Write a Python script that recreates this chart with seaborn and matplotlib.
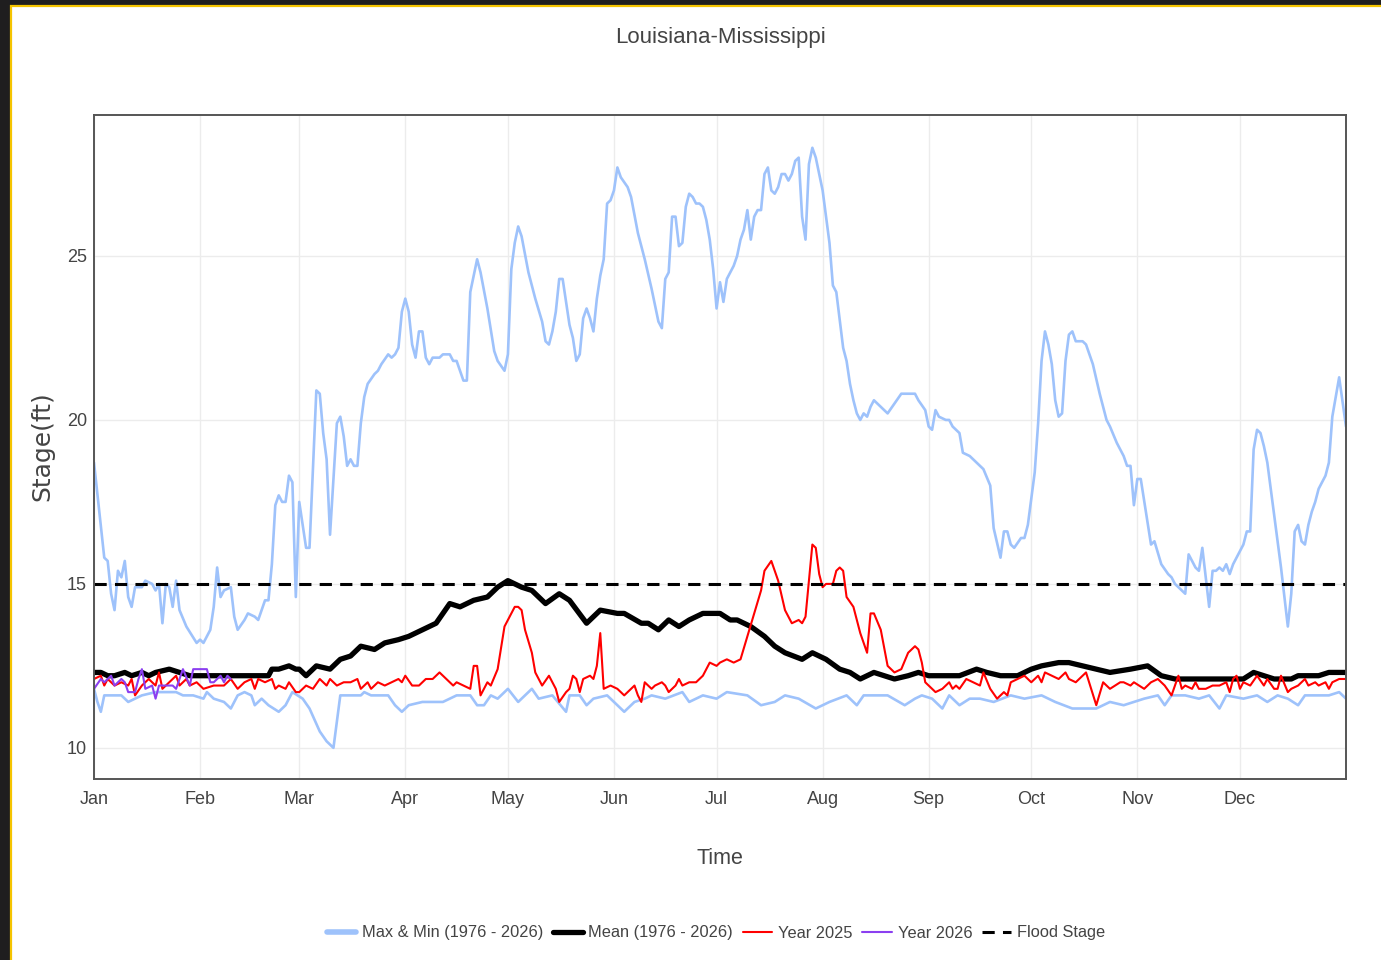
import matplotlib
matplotlib.use("Agg")
import matplotlib.pyplot as plt
import matplotlib.patches as mpatches
import pandas as pd
import seaborn as sns

# month axis (leap-year day of year)
month_labels = ["Jan", "Feb", "Mar", "Apr", "May", "Jun", "Jul", "Aug", "Sep", "Oct", "Nov", "Dec"]
month_starts = [0, 31, 60, 91, 121, 152, 182, 213, 244, 274, 305, 335]

# Max (1976 - 2026)
max_day = [0, 3, 4, 5, 6, 7, 8, 9, 10, 11, 12, 14, 15, 17, 18, 19, 20, 21, 22, 23, 24, 25, 27, 30, 31, 32,
           34, 35, 36, 37, 38, 40, 41, 42, 44, 45, 47, 48, 49, 50, 51, 52, 53, 54, 55, 56, 57, 58, 59, 60,
           62, 63, 65, 66, 67, 68, 69, 71, 72, 73, 74, 75, 76, 77, 78, 79, 80, 82, 83, 84, 86, 87, 88, 89,
           90, 91, 92, 93, 94, 95, 96, 97, 98, 99, 101, 102, 103, 104, 105, 106, 107, 108, 109, 110, 112,
           113, 115, 117, 118, 120, 121, 122, 123, 124, 125, 127, 129, 131, 132, 133, 134, 135, 136, 137,
           138, 139, 140, 141, 142, 143, 144, 145, 146, 147, 148, 149, 150, 151, 152, 153, 154, 156, 157,
           159, 161, 163, 165, 166, 167, 168, 169, 170, 171, 172, 173, 174, 175, 176, 177, 178, 179, 180,
           181, 182, 183, 184, 185, 186, 187, 188, 189, 190, 191, 192, 193, 194, 195, 196, 197, 198, 199,
           200, 201, 202, 203, 204, 205, 206, 207, 208, 209, 210, 211, 213, 215, 216, 217, 219, 220, 221,
           222, 223, 224, 225, 226, 227, 228, 229, 231, 232, 234, 236, 237, 239, 240, 241, 243, 244, 245,
           246, 247, 249, 250, 251, 253, 254, 256, 257, 259, 260, 262, 263, 265, 266, 267, 268, 269, 271,
           272, 273, 275, 276, 277, 278, 279, 280, 281, 282, 283, 284, 285, 286, 287, 288, 289, 290, 292,
           294, 296, 297, 299, 301, 302, 303, 304, 305, 306, 309, 310, 312, 314, 315, 316, 318, 319, 320,
           322, 323, 324, 326, 327, 328, 329, 330, 331, 332, 333, 335, 336, 337, 338, 339, 340, 341, 342,
           343, 345, 347, 349, 350, 351, 352, 353, 354, 355, 356, 357, 358, 360, 361, 362, 364, 366]
max_stage = [18.7, 15.8, 15.7, 14.7, 14.2, 15.4, 15.2, 15.7, 14.6, 14.3, 14.9, 14.9, 15.1, 15.0, 14.8, 15.0,
             13.8, 15.0, 14.9, 14.3, 15.1, 14.2, 13.7, 13.2, 13.3, 13.2, 13.6, 14.3, 15.5, 14.6, 14.8, 14.9,
             14.0, 13.6, 13.9, 14.1, 14.0, 13.9, 14.2, 14.5, 14.5, 15.6, 17.4, 17.7, 17.5, 17.5, 18.3, 18.1,
             14.6, 17.5, 16.1, 16.1, 20.9, 20.8, 19.6, 18.8, 16.5, 19.9, 20.1, 19.5, 18.6, 18.8, 18.6, 18.6,
             19.9, 20.7, 21.1, 21.4, 21.5, 21.7, 22.0, 21.9, 22.0, 22.2, 23.3, 23.7, 23.3, 22.3, 21.9, 22.7,
             22.7, 21.9, 21.7, 21.9, 21.9, 22.0, 22.0, 22.0, 21.8, 21.8, 21.5, 21.2, 21.2, 23.9, 24.9, 24.5,
             23.4, 22.1, 21.8, 21.5, 22.0, 24.6, 25.4, 25.9, 25.6, 24.5, 23.7, 23.0, 22.4, 22.3, 22.7, 23.3,
             24.3, 24.3, 23.6, 22.9, 22.5, 21.8, 22.0, 23.1, 23.4, 23.1, 22.7, 23.7, 24.4, 24.9, 26.6, 26.7,
             27.0, 27.7, 27.4, 27.1, 26.8, 25.7, 24.9, 24.0, 23.0, 22.8, 24.3, 24.5, 26.2, 26.2, 25.3, 25.4,
             26.5, 26.9, 26.8, 26.6, 26.6, 26.5, 26.1, 25.5, 24.6, 23.4, 24.2, 23.6, 24.3, 24.5, 24.7, 25.0,
             25.5, 25.8, 26.4, 25.5, 26.2, 26.4, 26.4, 27.5, 27.7, 27.0, 26.9, 27.1, 27.5, 27.5, 27.3, 27.5,
             27.9, 28.0, 26.2, 25.5, 27.8, 28.3, 28.0, 27.0, 25.4, 24.1, 23.9, 22.2, 21.8, 21.1, 20.6, 20.2,
             20.0, 20.2, 20.1, 20.4, 20.6, 20.5, 20.3, 20.2, 20.5, 20.8, 20.8, 20.8, 20.8, 20.6, 20.3, 19.8,
             19.7, 20.3, 20.1, 20.0, 20.0, 19.8, 19.6, 19.0, 18.9, 18.8, 18.6, 18.5, 18.0, 16.7, 15.8, 16.6,
             16.6, 16.2, 16.1, 16.4, 16.4, 16.8, 18.4, 19.9, 21.8, 22.7, 22.3, 21.7, 20.6, 20.1, 20.2, 21.8,
             22.6, 22.7, 22.4, 22.4, 22.4, 22.3, 21.7, 20.8, 20.0, 19.8, 19.3, 18.9, 18.6, 18.6, 17.4, 18.2,
             18.2, 16.2, 16.3, 15.6, 15.3, 15.2, 15.0, 14.8, 14.7, 15.9, 15.5, 15.4, 16.1, 14.3, 15.4, 15.4,
             15.5, 15.4, 15.6, 15.3, 15.6, 16.0, 16.2, 16.6, 16.6, 19.1, 19.7, 19.6, 19.2, 18.7, 17.1, 15.5,
             13.7, 14.7, 16.6, 16.8, 16.3, 16.2, 16.8, 17.2, 17.5, 17.9, 18.3, 18.7, 20.1, 21.3, 19.8]

# Min (1976 - 2026)
min_day = [0, 1, 2, 3, 6, 8, 10, 12, 14, 18, 22, 24, 26, 29, 32, 33, 35, 38, 40, 42, 44, 46, 47, 49, 51,
           54, 56, 58, 61, 63, 66, 68, 70, 72, 75, 78, 79, 81, 84, 86, 88, 90, 92, 96, 100, 102, 106, 110,
           112, 114, 116, 118, 121, 124, 126, 128, 130, 134, 138, 139, 142, 144, 146, 150, 152, 155, 158,
           161, 163, 167, 172, 174, 178, 182, 185, 191, 195, 199, 202, 206, 211, 215, 220, 223, 225, 229,
           232, 237, 240, 242, 245, 248, 250, 253, 256, 259, 263, 268, 272, 277, 281, 286, 290, 293, 297,
           301, 307, 311, 313, 315, 319, 323, 326, 329, 331, 336, 340, 343, 346, 349, 352, 354, 358, 361,
           364, 366]
min_stage = [11.8, 11.4, 11.1, 11.6, 11.6, 11.6, 11.4, 11.5, 11.6, 11.7, 11.7, 11.7, 11.6, 11.6, 11.5, 11.7,
             11.5, 11.4, 11.2, 11.6, 11.7, 11.6, 11.3, 11.5, 11.3, 11.1, 11.3, 11.7, 11.5, 11.2, 10.5, 10.2,
             10.0, 11.6, 11.6, 11.6, 11.7, 11.6, 11.6, 11.6, 11.3, 11.1, 11.3, 11.4, 11.4, 11.4, 11.6, 11.6,
             11.3, 11.3, 11.6, 11.5, 11.8, 11.4, 11.6, 11.8, 11.5, 11.6, 11.1, 11.6, 11.6, 11.3, 11.5, 11.6,
             11.4, 11.1, 11.4, 11.5, 11.6, 11.5, 11.7, 11.4, 11.6, 11.5, 11.7, 11.6, 11.3, 11.4, 11.6, 11.5,
             11.2, 11.4, 11.6, 11.3, 11.6, 11.6, 11.6, 11.3, 11.5, 11.6, 11.5, 11.2, 11.6, 11.3, 11.5, 11.5,
             11.4, 11.6, 11.5, 11.6, 11.4, 11.2, 11.2, 11.2, 11.4, 11.3, 11.5, 11.6, 11.3, 11.6, 11.6, 11.5,
             11.6, 11.2, 11.6, 11.5, 11.6, 11.4, 11.6, 11.5, 11.3, 11.6, 11.6, 11.6, 11.7, 11.5]

# Mean (1976 - 2026)
mean_day = [0, 2, 4, 6, 9, 11, 14, 16, 18, 22, 25, 28, 31, 34, 38, 42, 45, 48, 51, 52, 54, 57, 59, 60, 62,
            65, 69, 72, 75, 78, 82, 85, 89, 92, 96, 100, 104, 107, 111, 115, 118, 121, 125, 128, 132, 136,
            139, 144, 148, 153, 155, 160, 162, 165, 168, 171, 174, 178, 183, 186, 188, 192, 196, 199, 202,
            207, 210, 214, 218, 221, 224, 228, 231, 234, 238, 241, 244, 247, 250, 253, 258, 261, 265, 270,
            274, 277, 282, 285, 289, 293, 297, 303, 308, 312, 316, 321, 326, 331, 336, 339, 342, 345, 350,
            352, 358, 361, 366]
mean_stage = [12.3, 12.3, 12.2, 12.2, 12.3, 12.2, 12.3, 12.2, 12.3, 12.4, 12.3, 12.2, 12.2, 12.2, 12.2, 12.2,
              12.2, 12.2, 12.2, 12.4, 12.4, 12.5, 12.4, 12.4, 12.2, 12.5, 12.4, 12.7, 12.8, 13.1, 13.0, 13.2,
              13.3, 13.4, 13.6, 13.8, 14.4, 14.3, 14.5, 14.6, 14.9, 15.1, 14.9, 14.8, 14.4, 14.7, 14.5, 13.8,
              14.2, 14.1, 14.1, 13.8, 13.8, 13.6, 13.9, 13.7, 13.9, 14.1, 14.1, 13.9, 13.9, 13.7, 13.4, 13.1,
              12.9, 12.7, 12.9, 12.7, 12.4, 12.3, 12.1, 12.3, 12.2, 12.1, 12.2, 12.3, 12.2, 12.2, 12.2, 12.2,
              12.4, 12.3, 12.2, 12.2, 12.4, 12.5, 12.6, 12.6, 12.5, 12.4, 12.3, 12.4, 12.5, 12.2, 12.1, 12.1,
              12.1, 12.1, 12.1, 12.3, 12.2, 12.1, 12.1, 12.2, 12.2, 12.3, 12.3]

# Year 2025
y2025_day = [0, 2, 3, 4, 6, 8, 10, 11, 12, 14, 16, 18, 19, 20, 22, 24, 25, 27, 28, 30, 32, 35, 38, 40, 42,
             44, 46, 47, 48, 50, 52, 53, 54, 56, 57, 59, 60, 62, 64, 66, 68, 69, 71, 73, 75, 77, 78, 80, 81,
             83, 85, 87, 89, 90, 91, 93, 95, 97, 99, 101, 103, 105, 106, 108, 110, 111, 112, 113, 115, 116,
             118, 120, 121, 123, 124, 125, 126, 128, 129, 131, 133, 135, 136, 138, 139, 140, 141, 142, 143,
             145, 146, 147, 148, 149, 151, 153, 155, 158, 159, 160, 161, 163, 164, 166, 167, 168, 170, 171,
             172, 174, 176, 178, 180, 182, 183, 185, 187, 189, 191, 193, 195, 196, 198, 200, 202, 204, 206,
             207, 208, 210, 211, 212, 213, 214, 216, 217, 218, 219, 220, 222, 224, 226, 227, 228, 230, 232,
             234, 236, 238, 240, 241, 242, 243, 244, 246, 248, 250, 251, 252, 253, 255, 257, 259, 260, 262,
             264, 266, 267, 268, 270, 272, 274, 276, 277, 278, 280, 282, 284, 285, 287, 290, 293, 295, 297,
             300, 301, 303, 304, 307, 309, 311, 313, 315, 316, 317, 318, 319, 321, 322, 323, 325, 327, 329,
             331, 332, 333, 334, 335, 336, 338, 340, 342, 343, 345, 346, 347, 349, 350, 352, 354, 355, 357,
             358, 360, 361, 362, 364, 366]
y2025_stage = [12.1, 12.2, 11.9, 12.1, 11.9, 12.0, 11.9, 12.1, 11.6, 11.9, 12.1, 11.9, 12.3, 11.8, 12.0, 12.2,
               11.9, 12.1, 11.9, 12.0, 11.8, 11.9, 11.9, 12.1, 11.8, 12.0, 12.1, 11.8, 12.1, 12.0, 12.1, 11.8,
               11.9, 11.8, 12.0, 11.7, 11.7, 11.9, 11.8, 12.1, 11.9, 12.1, 11.9, 12.0, 12.0, 12.1, 11.8, 12.0,
               11.8, 12.0, 11.9, 12.0, 12.1, 12.0, 12.2, 11.9, 11.9, 12.1, 12.1, 12.3, 12.1, 11.9, 12.0, 11.9,
               11.8, 12.5, 12.5, 11.6, 12.0, 11.9, 12.4, 13.7, 13.9, 14.3, 14.3, 14.2, 13.6, 12.9, 12.3, 11.9,
               12.2, 11.8, 11.4, 11.7, 11.8, 12.2, 12.1, 11.7, 12.1, 12.2, 12.1, 12.5, 13.5, 11.8, 11.9, 11.8,
               11.6, 11.9, 11.6, 11.4, 12.0, 11.8, 11.9, 12.0, 11.9, 11.7, 11.9, 12.1, 11.9, 12.0, 12.0, 12.2,
               12.6, 12.5, 12.6, 12.7, 12.6, 12.7, 13.4, 14.1, 14.8, 15.4, 15.7, 15.1, 14.2, 13.8, 13.9, 13.8,
               14.0, 16.2, 16.1, 15.3, 14.9, 15.0, 15.0, 15.4, 15.5, 15.4, 14.6, 14.3, 13.5, 12.9, 14.1, 14.1,
               13.6, 12.5, 12.3, 12.4, 12.9, 13.1, 13.0, 12.6, 12.0, 11.9, 11.7, 11.8, 12.0, 11.8, 11.9, 11.8,
               12.1, 12.0, 11.9, 12.3, 11.8, 11.5, 11.7, 11.6, 12.0, 12.1, 12.2, 12.0, 12.2, 12.0, 12.3, 12.2,
               12.1, 12.3, 12.1, 12.0, 12.3, 11.3, 12.0, 11.8, 12.0, 12.0, 11.9, 12.0, 11.8, 12.0, 12.1, 11.9,
               11.6, 11.9, 12.2, 11.8, 11.9, 11.8, 12.0, 11.8, 11.8, 11.9, 11.9, 12.0, 11.7, 12.1, 12.2, 11.8,
               12.0, 11.9, 12.2, 11.9, 12.1, 11.8, 11.8, 12.2, 11.7, 11.8, 11.9, 12.1, 11.9, 12.0, 11.9, 12.0,
               11.8, 12.0, 12.1, 12.1]

# Year 2026
y2026_day = [0, 2, 3, 5, 6, 8, 9, 10, 12, 13, 14, 15, 17, 18, 19, 21, 23, 24, 26, 28, 29, 31, 33, 34, 35,
             37, 38, 39, 40]
y2026_stage = [11.8, 12.1, 12.0, 12.2, 11.9, 12.1, 12.0, 11.7, 11.7, 12.1, 12.4, 11.8, 11.9, 11.5, 11.9, 11.9,
               11.9, 11.8, 12.4, 11.9, 12.4, 12.4, 12.4, 12.0, 12.0, 12.2, 12.0, 12.2, 12.1]

flood_stage = 15

sns.set_style("white")
plt.rcParams["font.family"] = ["Liberation Sans", "DejaVu Sans"]
text_color = "#444444"

fig = plt.figure(figsize=(13.81, 9.6), dpi=100, facecolor="#1f1e1f")
# white page with the yellow frame of the screenshot
fig.patches.append(mpatches.Rectangle((11 / 1381, -0.05), 1.1, 1.05 - 6 / 960, transform=fig.transFigure,
                                      facecolor="white", edgecolor="#f5c400", linewidth=1.6, zorder=-1))

ax = fig.add_axes([94 / 1381, 1 - 779 / 960, 1252 / 1381, 664 / 960])

light_blue = "#9ec2fb"
sns.lineplot(x=max_day, y=max_stage, ax=ax, color=light_blue, linewidth=1.9,
             estimator=None, sort=False, label="Max & Min (1976 - 2026)")
sns.lineplot(x=min_day, y=min_stage, ax=ax, color=light_blue, linewidth=1.9,
             estimator=None, sort=False)
sns.lineplot(x=mean_day, y=mean_stage, ax=ax, color="black", linewidth=3.8,
             estimator=None, sort=False, label="Mean (1976 - 2026)")
sns.lineplot(x=y2025_day, y=y2025_stage, ax=ax, color="#ff0000", linewidth=1.5,
             estimator=None, sort=False, label="Year 2025")
sns.lineplot(x=y2026_day, y=y2026_stage, ax=ax, color="#8b3ff0", linewidth=1.5,
             estimator=None, sort=False, label="Year 2026")
sns.lineplot(x=[0, 366], y=[flood_stage, flood_stage], ax=ax, color="black", linewidth=2.2,
             linestyle=(0, (4, 2.7)), estimator=None, sort=False, label="Flood Stage")

if ax.get_legend() is not None:
    ax.get_legend().remove()

ax.set_xlim(0, 366)
ax.set_ylim(9.05, 29.3)
ax.set_xticks(month_starts)
ax.set_xticklabels(month_labels)
ax.set_yticks([10, 15, 20, 25])
ax.set_xlabel("")
ax.set_ylabel("")
ax.grid(True, color="#ececec", linewidth=1)
ax.tick_params(length=0, labelsize=13, colors=text_color, pad=9)
ax.tick_params(axis="y", pad=5)
for spine in ax.spines.values():
    spine.set_color("#555555")
    spine.set_linewidth(1.4)

fig.text(720 / 1381, 1 - 38 / 960, "Louisiana-Mississippi", ha="center", va="center",
         fontsize=16, color=text_color)
fig.text(720 / 1381, 1 - 858 / 960, "Time", ha="center", va="center", fontsize=15.5, color=text_color)
fig.text(42 / 1381, 1 - 446 / 960, "Stage(ft)", ha="center", va="center", rotation=90,
         fontsize=18, color=text_color, family=["DejaVu Sans"])

handles, labels = ax.get_legend_handles_labels()
leg = fig.legend(handles, labels, loc="center", bbox_to_anchor=(716 / 1381, 1 - 933 / 960), ncol=5,
                 frameon=False, fontsize=11.8, handlelength=1.8, handletextpad=0.35, columnspacing=0.6)
for text in leg.get_texts():
    text.set_color(text_color)
leg.get_lines()[0].set_linewidth(4)

fig.savefig("out.png", dpi=100, facecolor=fig.get_facecolor())
